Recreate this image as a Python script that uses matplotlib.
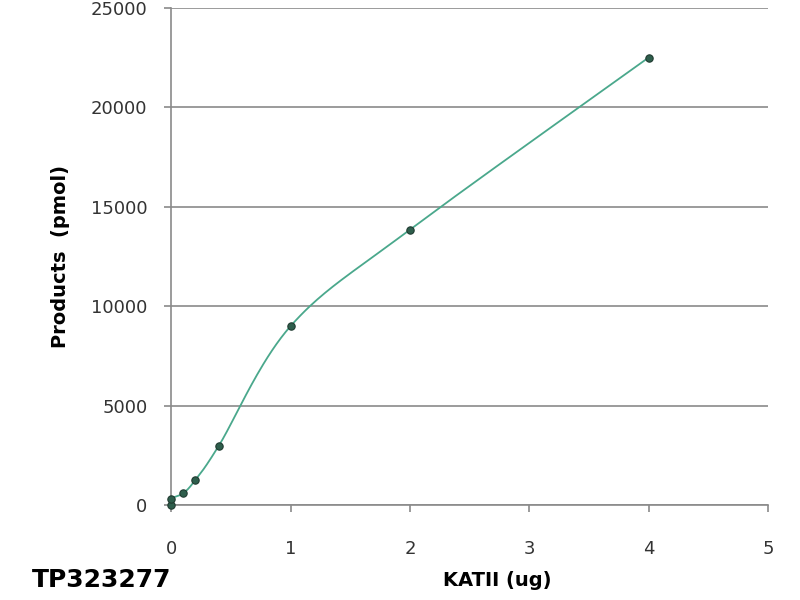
import numpy as np
import matplotlib
matplotlib.use("Agg")
import matplotlib.pyplot as plt

# data
kat_ug = [0, 0, 0.1, 0.2, 0.4, 1, 2, 4]
products = [30, 330, 600, 1250, 3000, 9000, 13850, 22500]


def smooth_curve(xs, ys, n=40):
    # Excel style smoothed line: Catmull-Rom as cubic bezier
    px = np.array(xs, dtype=float)
    py = np.array(ys, dtype=float)
    outx, outy = [], []
    for i in range(len(px) - 1):
        i0 = max(i - 1, 0)
        i3 = min(i + 2, len(px) - 1)
        p0 = np.array([px[i], py[i]])
        p3 = np.array([px[i + 1], py[i + 1]])
        c1 = p0 + (np.array([px[i + 1], py[i + 1]]) - np.array([px[i0], py[i0]])) / 6
        c2 = p3 - (np.array([px[i3], py[i3]]) - np.array([px[i], py[i]])) / 6
        t = np.linspace(0, 1, n)
        pts = ((1 - t) ** 3)[:, None] * p0 + (3 * (1 - t) ** 2 * t)[:, None] * c1 \
            + (3 * (1 - t) * t ** 2)[:, None] * c2 + (t ** 3)[:, None] * p3
        outx.extend(pts[:, 0])
        outy.extend(pts[:, 1])
    return outx, outy


fig = plt.figure(figsize=(8, 6), dpi=100)
ax = fig.add_axes([0.214, 0.158, 0.746, 0.829])

sx, sy = smooth_curve(kat_ug, products)
ax.plot(sx, sy, color="#4aa88c", lw=1.3, zorder=2, clip_on=False)
ax.scatter(kat_ug, products, s=28, color="#2e5e4c", edgecolor="#1f3a30", lw=0.8,
           zorder=3, clip_on=False)

ax.set_xlim(0, 5)
ax.set_ylim(0, 25000)
ax.set_xticks(range(0, 6))
ax.set_yticks(range(0, 25001, 5000))
ax.yaxis.grid(True, color="#8a8a8a", lw=1.2)
ax.set_axisbelow(True)
for s in ["top", "right"]:
    ax.spines[s].set_visible(False)
for s in ["left", "bottom"]:
    ax.spines[s].set_color("#8a8a8a")
    ax.spines[s].set_linewidth(1.2)
ax.tick_params(colors="#8a8a8a", labelcolor="#333333", labelsize=13, length=5, width=1.2)
ax.tick_params(axis="x", pad=20)
ax.tick_params(axis="y", pad=12)

ax.set_ylabel("Products  (pmol)", fontsize=14, fontweight="bold", labelpad=15)
fig.text(0.621, 0.033, "KATII (ug)", fontsize=14, fontweight="bold", ha="center", va="center")
fig.text(0.04, 0.033, "TP323277", fontsize=18, fontweight="bold", ha="left", va="center")

fig.savefig("out.png", dpi=100)
